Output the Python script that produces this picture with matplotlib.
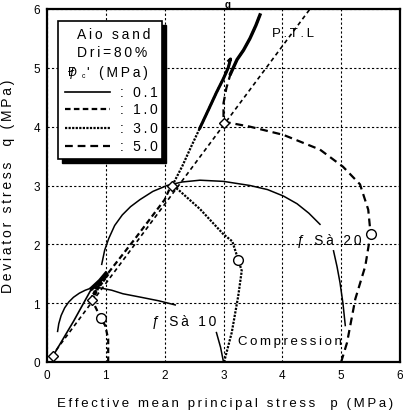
import matplotlib
matplotlib.use('Agg')
import matplotlib.pyplot as plt
from matplotlib.patches import Rectangle

plt.rcParams['font.family'] = ['Liberation Sans', 'DejaVu Sans']

def spaced(s, sep='\u2009'):
    return sep.join(s)

# undrained stress paths, p (MPa) and q (MPa)
p01 = [0.10, 0.45, 0.76, 0.90, 1.00]
q01 = [0.10, 0.69, 1.25, 1.38, 1.50]

p10 = [1.04, 1.04, 0.99, 0.91, 0.84, 0.76, 0.85, 1.03, 1.50, 2.00, 2.11]
q10 = [0.00, 0.39, 0.62, 0.74, 0.90, 1.06, 1.25, 1.50, 2.10, 2.76, 3.00]

p30 = [3.01, 3.14, 3.25, 3.31, 3.25, 3.15, 3.00, 2.60, 2.23, 2.13,
       2.30, 2.45, 2.60, 2.75, 2.88, 3.00, 3.08, 3.12, 3.09]
q30 = [0.00, 0.50, 1.12, 1.55, 1.74, 2.05, 2.17, 2.60, 2.93, 3.00,
       3.33, 3.66, 3.98, 4.30, 4.58, 4.82, 5.00, 5.15, 5.12]

p50 = [5.00, 5.10, 5.24, 5.41, 5.50, 5.46, 5.32, 5.03, 4.64, 4.02, 3.45, 3.08, 3.00,
       3.00, 3.05, 3.12, 3.23, 3.34, 3.45, 3.55, 3.62]
q50 = [0.00, 0.33, 1.07, 1.63, 2.18, 2.59, 3.02, 3.32, 3.61, 3.86, 4.00, 4.07, 4.07,
       4.40, 4.66, 4.90, 5.14, 5.30, 5.50, 5.72, 5.90]

# phase transformation points and their fitted line
pt_p = [0.10, 0.76, 2.13, 3.00]
pt_q = [0.10, 1.06, 3.00, 4.07]
ptl_p = [0.08, 4.47]
ptl_q = [0.10, 6.00]

# peak points
pk_p = [0.91, 3.25, 5.50]
pk_q = [0.74, 1.74, 2.18]

# strain contours
c10a_p = [0.18, 0.20, 0.24, 0.30, 0.37, 0.45, 0.55, 0.65, 0.76, 0.90, 1.10, 1.29, 1.60, 1.90, 2.18]
c10a_q = [0.52, 0.65, 0.79, 0.92, 1.02, 1.10, 1.17, 1.22, 1.26, 1.26, 1.22, 1.16, 1.10, 1.04, 0.97]
c10b_p = [2.88, 2.95, 3.00]
c10b_q = [0.50, 0.25, 0.00]
c20a_p = [0.93, 0.98, 1.05, 1.15, 1.28, 1.42, 1.58, 1.80, 2.04, 2.30, 2.60, 3.00, 3.45, 3.75, 4.02, 4.25, 4.45, 4.64]
c20a_q = [1.66, 1.90, 2.10, 2.32, 2.50, 2.64, 2.76, 2.90, 3.00, 3.06, 3.09, 3.07, 3.00, 2.93, 2.82, 2.69, 2.53, 2.34]
c20b_p = [4.87, 4.93, 4.98, 5.03, 5.07]
c20b_q = [1.89, 1.62, 1.35, 1.00, 0.62]

fig = plt.figure(figsize=(4.03, 4.14), dpi=100)
ax = fig.add_axes([47 / 403, 1 - 363 / 414, 353 / 403, 353 / 414])

sty01 = dict(color='black', lw=1.2, ls='-')
sty10 = dict(color='black', lw=1.6, ls=(0, (2.5, 1.5)))
sty30 = dict(color='black', lw=1.6, ls=(0, (1.0, 0.6)))
sty50 = dict(color='black', lw=1.6, ls=(0, (3.5, 2.2)))

ax.plot(p01, q01, **sty01)
ax.plot(p01[2:], q01[2:], color='black', lw=3)
ax.plot(p10, q10, **sty10)
ax.plot(p10[5:8], q10[5:8], color='black', lw=3, ls=(0, (1, 0.3)))
ax.plot(p30, q30, **sty30)
ax.plot(p30[12:], q30[12:], color='black', lw=2.2)
ax.plot(p50, q50, **sty50)
ax.plot(p50[15:], q50[15:], color='black', lw=2.4)

ax.plot(ptl_p, ptl_q, color='black', lw=1.2, ls=(0, (2.5, 2)))

for cp, cq in [(c10a_p, c10a_q), (c10b_p, c10b_q), (c20a_p, c20a_q), (c20b_p, c20b_q)]:
    ax.plot(cp, cq, color='black', lw=1.1)

ax.plot(pt_p, pt_q, 'D', ms=5, mfc='white', mec='black', mew=1, zorder=5)
ax.plot(pk_p, pk_q, 'o', ms=7, mfc='white', mec='black', mew=1, zorder=5)

ax.text(3.83, 5.59, spaced('P.T.L'), fontsize=9.5, va='center', ha='left')
ax.text(1.79, 0.69, spaced('ƒ Sà 10'), fontsize=10, va='center', ha='left')
ax.text(4.25, 2.08, spaced('ƒ Sà 20'), fontsize=10, va='center', ha='left')
ax.text(3.25, 0.36, spaced('Compression'), fontsize=9.5, va='center', ha='left')

ax.set_xlim(0, 6)
ax.set_ylim(0, 6)
ax.set_xticks(range(7))
ax.set_yticks(range(7))
ax.grid(True, color='black', lw=0.8, ls=(0, (2, 2)))
ax.tick_params(direction='in', length=0, labelsize=8.5, pad=5)
for s in ax.spines.values():
    s.set_linewidth(1.6)

ax.set_xlabel(spaced('Effective mean principal stress  p (MPa)'), fontsize=9.5)
ax.xaxis.set_label_coords(0.505, -0.1)
ax.set_ylabel(spaced('Deviator stress  q (MPa)'), fontsize=10)
ax.yaxis.set_label_coords(-0.09, 0.5)

# legend box with drop shadow
tr = ax.transAxes
ax.add_patch(Rectangle((0.042, 0.564), 0.295, 0.391, transform=tr, fc='black', ec='black', zorder=6))
ax.add_patch(Rectangle((0.031, 0.575), 0.295, 0.391, transform=tr, fc='white', ec='black', lw=1.2, zorder=7))
ax.text(0.292, 0.929, spaced('Aio sand'), transform=tr, fontsize=10, ha='right', va='center', zorder=8)
ax.text(0.283, 0.878, spaced('Dri=80%'), transform=tr, fontsize=10, ha='right', va='center', zorder=8)
ax.text(0.062, 0.822, 'ƒ', transform=tr, fontsize=9, ha='left', va='center', zorder=8)
ax.text(0.058, 0.822, 'Ð', transform=tr, fontsize=9, ha='left', va='center', zorder=8)
ax.text(0.098, 0.812, 'c', transform=tr, fontsize=5, ha='left', va='center', zorder=8)
ax.text(0.286, 0.822, spaced("' (MPa)"), transform=tr, fontsize=10, ha='right', va='center', zorder=8)
for y, lab, sty in [(0.765, ': 0.1', sty01), (0.717, ': 1.0', sty10),
                    (0.663, ': 3.0', sty30), (0.612, ': 5.0', sty50)]:
    ax.plot([0.051, 0.178], [y, y], transform=tr, zorder=8, **sty)
    ax.text(0.207, y, spaced(lab), transform=tr, fontsize=10, ha='left', va='center', zorder=8)

# title remnant above the frame
fig.text(228 / 403, 0.999, 'g', fontsize=7, fontweight='bold', ha='center', va='top')

fig.savefig('out.png', dpi=100)
